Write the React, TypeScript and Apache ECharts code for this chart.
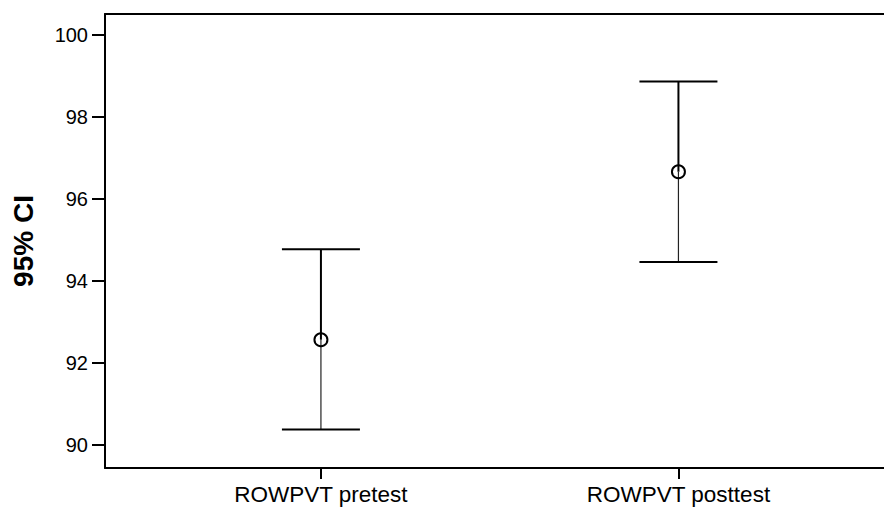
import React, { useEffect, useRef } from "react";
import * as echarts from "echarts";

const categories = ["ROWPVT pretest", "ROWPVT posttest"];
const categoryPositions = [1, 2];
const means = [92.56, 96.66];
const lowers = [90.37, 94.46];
const uppers = [94.77, 98.86];
const yTicks = [90, 92, 94, 96, 98, 100];

export default function App() {
  const ref = useRef<HTMLDivElement>(null);
  useEffect(() => {
    if (!ref.current) return;
    const chart = echarts.init(ref.current, undefined, { renderer: "svg" });
    const font = "'Liberation Sans', Arial, sans-serif";
    const errData = categoryPositions.map((x, i) => [x, lowers[i], uppers[i], means[i]]);
    chart.setOption({
      animation: false,
      backgroundColor: "#ffffff",
      grid: { left: 105, right: 0, top: 14, bottom: 41 },
      xAxis: [
        {
          type: "value",
          min: 0.396,
          max: 2.575,
          position: "bottom",
          axisLine: { show: true, lineStyle: { color: "#000", width: 2 } },
          splitLine: { show: false },
          axisTick: {
            show: true,
            length: 11,
            customValues: categoryPositions,
            lineStyle: { color: "#000", width: 2 },
          },
          axisLabel: {
            customValues: categoryPositions,
            formatter: (v: number) => categories[categoryPositions.indexOf(v)] ?? "",
            color: "#000",
            fontFamily: font,
            fontSize: 22.5,
            margin: 15,
          },
        },
        {
          type: "value",
          min: 0.396,
          max: 2.575,
          position: "top",
          axisLine: { show: true, lineStyle: { color: "#000", width: 2 } },
          splitLine: { show: false },
          axisTick: { show: false },
          axisLabel: { show: false },
        },
      ],
      yAxis: {
        type: "value",
        min: 89.43,
        max: 100.51,
        name: "95% CI",
        nameLocation: "middle",
        nameGap: 68,
        nameTextStyle: { fontFamily: font, fontSize: 28, fontWeight: "bold", color: "#000" },
        axisLine: { show: true, lineStyle: { color: "#000", width: 2 } },
        splitLine: { show: false },
        axisTick: {
          show: true,
          length: 13,
          customValues: yTicks,
          lineStyle: { color: "#000", width: 2 },
        },
        axisLabel: {
          customValues: yTicks,
          color: "#000",
          fontFamily: font,
          fontSize: 20,
          margin: 17,
        },
      },
      series: [
        {
          type: "custom",
          xAxisIndex: 0,
          data: errData,
          renderItem: (params: any, api: any) => {
            const x = api.value(0);
            const lo = api.coord([x, api.value(1)]);
            const hi = api.coord([x, api.value(2)]);
            const mid = api.coord([x, api.value(3)]);
            const hw = 39;
            const stroke = { stroke: "#000", lineWidth: 2 };
            return {
              type: "group",
              children: [
                { type: "line", shape: { x1: hi[0], y1: hi[1], x2: mid[0], y2: mid[1] }, style: { stroke: "#000", lineWidth: 2 } },
                { type: "line", shape: { x1: mid[0], y1: mid[1], x2: lo[0], y2: lo[1] }, style: { stroke: "#222", lineWidth: 1.2 } },
                { type: "line", shape: { x1: hi[0] - hw, y1: hi[1], x2: hi[0] + hw, y2: hi[1] }, style: stroke },
                { type: "line", shape: { x1: lo[0] - hw, y1: lo[1], x2: lo[0] + hw, y2: lo[1] }, style: stroke },
              ],
            };
          },
        },
        {
          type: "scatter",
          xAxisIndex: 0,
          data: categoryPositions.map((x, i) => [x, means[i]]),
          symbol: "circle",
          symbolSize: 13,
          itemStyle: { color: "rgba(255,255,255,0)", borderColor: "#000", borderWidth: 2, opacity: 1 },
          z: 5,
        },
      ],
    });
    return () => chart.dispose();
  }, []);
  return (
    <div
      ref={ref}
      style={{ position: "fixed", left: 0, top: 0, width: 884, height: 509, background: "#fff" }}
    />
  );
}
